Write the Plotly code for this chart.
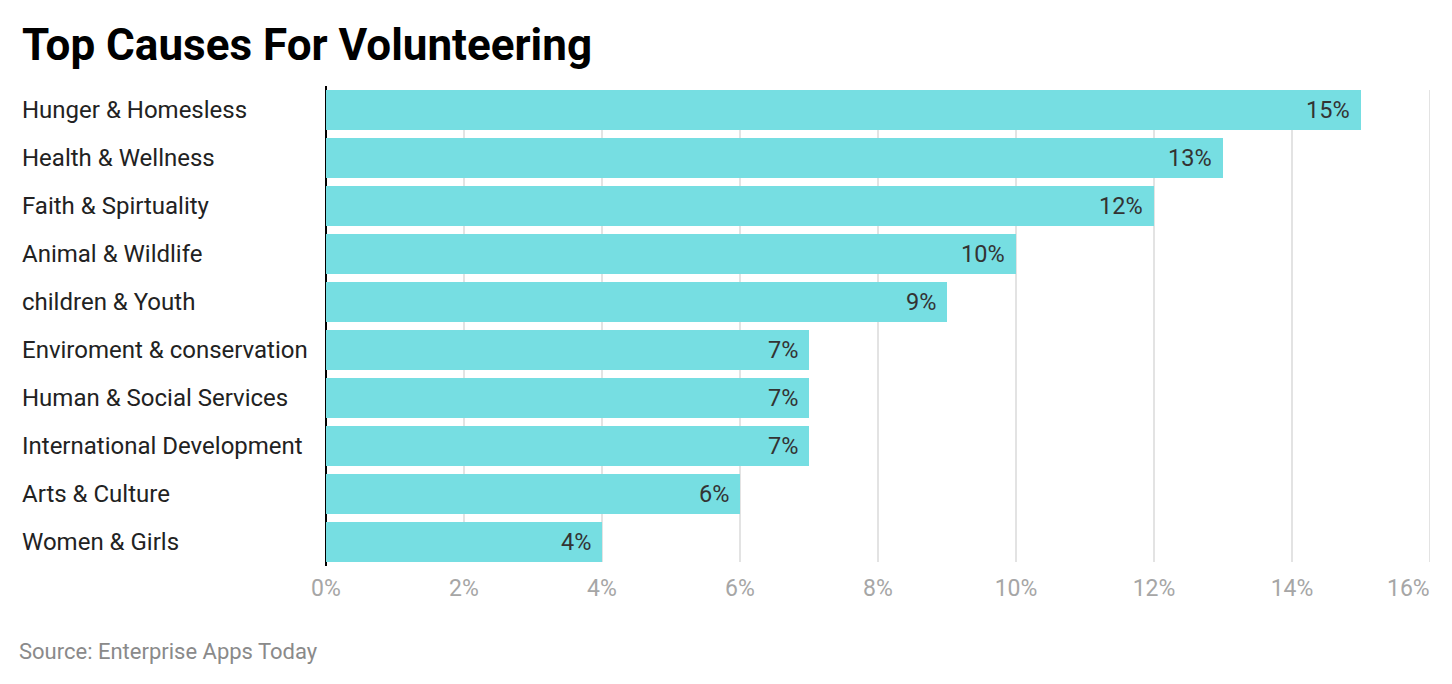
import plotly.graph_objects as go

categories = ["Hunger & Homesless", "Health & Wellness", "Faith & Spirtuality",
              "Animal & Wildlife", "children & Youth", "Enviroment & conservation",
              "Human & Social Services", "International Development",
              "Arts & Culture", "Women & Girls"]
values = [15, 13, 12, 10, 9, 7, 7, 7, 6, 4]
tick_vals = [0, 2, 4, 6, 8, 10, 12, 14, 16]
tick_text = [f"{v}%" for v in tick_vals]

OFF = 8  # default body margin of the html page
W, H = 1452 - OFF, 684 - OFF
ML, MR, MT, MB = 326 - OFF, 22, 86 - OFF, 118
pw = W - ML - MR
ph = H - MT - MB

fig = go.Figure(go.Bar(
    y=categories, x=values, orientation="h",
    marker=dict(color="#76dee2", line=dict(width=0)),
    hoverinfo="skip",
))

annotations = []
for c, v in zip(categories, values):
    annotations.append(dict(x=(20 - OFF - ML) / pw, xref="paper", y=c, yref="y",
                            text=c, showarrow=False, xanchor="left",
                            font=dict(family="Roboto", size=24, color="#222222")))
    annotations.append(dict(x=v, xref="x", y=c, yref="y", text=f"{v}%",
                            showarrow=False, xanchor="right", xshift=-9,
                            font=dict(family="Roboto", size=23.5, color="#333333")))

# last tick label kept inside the page (right-aligned to its gridline)
annotations.append(dict(x=tick_vals[-1], xref="x", y=-(588 - 566) / ph, yref="paper",
                        text=tick_text[-1], showarrow=False, xanchor="right",
                        yanchor="middle", xshift=2,
                        font=dict(family="Roboto", size=23, color="#a6a6a6")))

annotations.append(dict(x=(17 - OFF - ML) / pw, xref="paper",
                        y=-(651 - 566) / ph, yref="paper",
                        text="Source: Enterprise Apps Today",
                        showarrow=False, xanchor="left", yanchor="middle",
                        font=dict(family="Roboto", size=22, color="#8a8a8a")))

fig.update_layout(
    width=W, height=H,
    margin=dict(l=ML, r=MR, t=MT, b=MB),
    paper_bgcolor="white", plot_bgcolor="white",
    bargap=8 / 48,
    showlegend=False,
    title=dict(text="<b>Top Causes For Volunteering</b>", x=(22 - OFF) / W, xanchor="left",
               xref="container", y=1 - (45 - OFF) / H, yref="container", yanchor="middle",
               font=dict(family="Roboto", size=44, color="#000000")),
    xaxis=dict(range=[0, 16], tickvals=tick_vals[:-1], ticktext=tick_text[:-1],
               showgrid=False,
               zeroline=True, zerolinecolor="#000000", zerolinewidth=2,
               tickfont=dict(family="Roboto", size=23, color="#a6a6a6"),
               ticks="", ticklabelstandoff=6, fixedrange=True),
    yaxis=dict(categoryorder="array", categoryarray=categories, autorange="reversed",
               showticklabels=False, showgrid=False, zeroline=False, ticks="",
               fixedrange=True),
    annotations=annotations,
)

# gridlines at every tick (including the last one at 16%)
for tv in tick_vals[1:]:
    fig.add_shape(type="line", xref="x", yref="paper", x0=tv, x1=tv,
                  y0=(566 - 562) / ph, y1=1 - (90 - 86) / ph,
                  line=dict(color="#e3e3e3", width=2), layer="below")

fig.write_html("out.html")
